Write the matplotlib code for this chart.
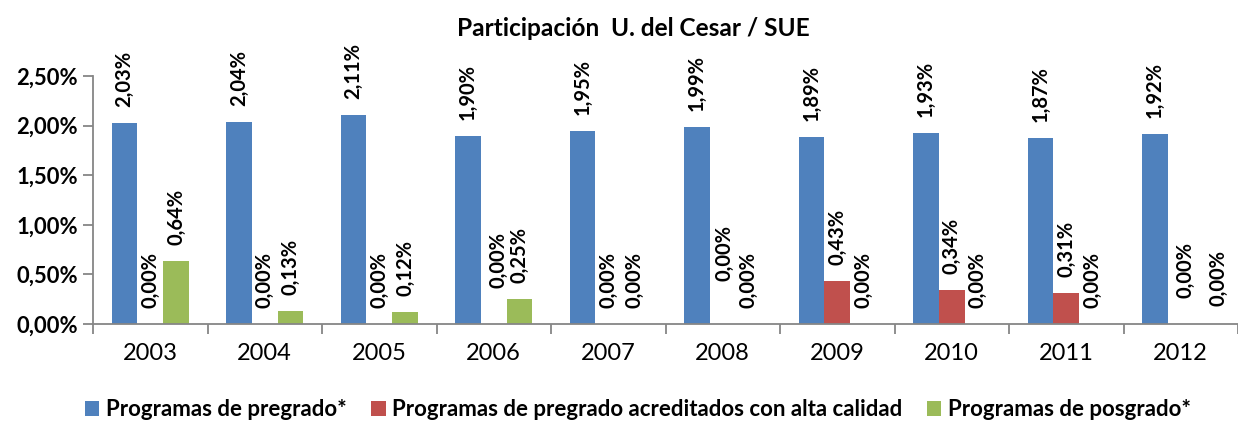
import matplotlib
matplotlib.use("Agg")
import matplotlib.pyplot as plt
import numpy as np
from matplotlib.ticker import FuncFormatter, FixedLocator

plt.rcParams['font.family'] = ['Lato', 'DejaVu Sans']

years = ['2003', '2004', '2005', '2006', '2007', '2008', '2009', '2010', '2011', '2012']
pregrado = [2.03, 2.04, 2.11, 1.90, 1.95, 1.99, 1.89, 1.93, 1.87, 1.92]
acreditados = [0.00, 0.00, 0.00, 0.00, 0.00, 0.00, 0.43, 0.34, 0.31, 0.00]
posgrado = [0.64, 0.13, 0.12, 0.25, 0.00, 0.00, 0.00, 0.00, 0.00, 0.00]
series_names = ['Programas de pregrado*', 'Programas de pregrado acreditados con alta calidad',
                'Programas de posgrado*']
title = 'Participación  U. del Cesar / SUE'

colors = ['#4F81BD', '#C0504D', '#9BBB59']
fig = plt.figure(figsize=(12.38, 4.24), dpi=100)
ax = fig.add_axes([93/1238, 1 - 324/424, 1 - 93/1238, (324 - 76)/424])

x = np.arange(len(years))
w = 0.225
series = [pregrado, acreditados, posgrado]
# extra label offsets (px) to mimic Excel's label nudging: (series, index) -> (dx, dy)
extra = {(1, 3): (5, 20), (1, 5): (2, 27), (1, 9): (5, 10), (2, 9): (12, 2)}

def fmt(v):
    return f'{v:.2f}'.replace('.', ',') + '%'

for s, (vals, c) in enumerate(zip(series, colors)):
    pos = x + (s - 1) * w
    ax.bar(pos, vals, width=w, color=c, label=series_names[s], zorder=2)
    for i, (p, v) in enumerate(zip(pos, vals)):
        dx, dy = extra.get((s, i), (0, 0))
        ax.annotate(fmt(v), xy=(p, v), xytext=(dx * 0.72, (16 + dy) * 0.72),
                    textcoords='offset points', rotation=90, ha='center', va='bottom',
                    fontsize=14.5, fontweight='bold', color='black',
                    annotation_clip=False)

ax.set_xlim(-0.5, -0.5 + (1238 - 93) / 115.19)
ax.set_ylim(0, 2.5)
ax.yaxis.set_major_locator(FixedLocator([0, 0.5, 1.0, 1.5, 2.0, 2.5]))
ax.yaxis.set_major_formatter(FuncFormatter(lambda v, p: f'{v:.2f}'.replace('.', ',') + '%'))
ax.set_xticks(x)
ax.set_xticklabels(years, fontsize=17)
ax.set_xticks(np.arange(-0.5, len(years) + 0.5, 1), minor=True)
ax.tick_params(axis='x', which='major', length=0, pad=14)
ax.tick_params(axis='x', which='minor', length=7, width=1.3, color='#868686', direction='out')
ax.tick_params(axis='y', length=7, width=1.3, color='#868686', pad=4)
for lab in ax.get_yticklabels():
    lab.set_fontsize(15.8)
    lab.set_fontweight('bold')

for side in ['top', 'right']:
    ax.spines[side].set_visible(False)
for side in ['left', 'bottom']:
    ax.spines[side].set_color('#868686')
    ax.spines[side].set_linewidth(1.3)

fig.text(633/1238, 1 - 28/424, title, ha='center', va='center', fontsize=17.6, fontweight='bold')

leg = fig.legend(loc='center', bbox_to_anchor=(638/1238, 1 - 410/424), ncol=3, frameon=False,
                 prop={'size': 16, 'weight': 'bold'}, handlelength=0.65, handleheight=0.65,
                 handletextpad=0.3, columnspacing=1.1, borderaxespad=0)

fig.savefig('out.png', dpi=100)
